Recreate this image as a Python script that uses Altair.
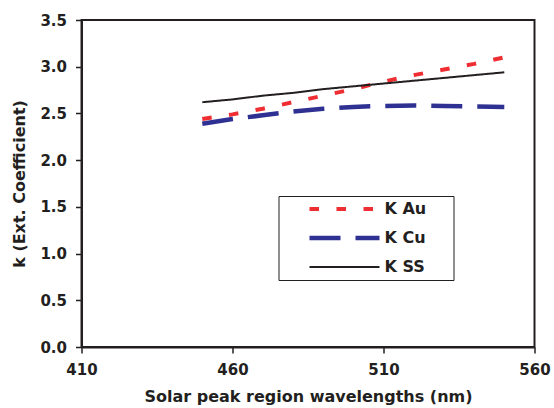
import altair as alt
import pandas as pd

wavelengths = [450, 460, 470, 480, 490, 500, 510, 520, 530, 540, 550]
k_au = [2.44, 2.49, 2.55, 2.62, 2.69, 2.76, 2.84, 2.91, 2.97, 3.03, 3.10]
k_cu = [2.39, 2.44, 2.48, 2.52, 2.55, 2.57, 2.58, 2.585, 2.58, 2.575, 2.57]
k_ss = [2.62, 2.65, 2.69, 2.72, 2.76, 2.79, 2.82, 2.85, 2.88, 2.91, 2.94]

series_names = ["K Au", "K Cu", "K SS"]
series_colors = ["#ee2e33", "#2e3192", "#231f20"]
series_dash = [[9.5, 17.5], [31, 15], [1, 0]]
series_width = [4, 4.5, 2]

rows = []
for name, vals in zip(series_names, [k_au, k_cu, k_ss]):
    for w, v in zip(wavelengths, vals):
        rows.append({"wl": w, "k": v, "series": name})
df = pd.DataFrame(rows)

FONT = "DejaVu Sans"
TXT = "#231f20"

chart = alt.Chart(df).mark_line(strokeCap="butt").encode(
    x=alt.X("wl:Q",
            scale=alt.Scale(domain=[410, 560], nice=False, zero=False),
            axis=alt.Axis(values=[410, 460, 510, 560], title="Solar peak region wavelengths (nm)",
                          grid=False, tickSize=6, labelPadding=9, titlePadding=11,
                          labelFlush=False)),
    y=alt.Y("k:Q",
            scale=alt.Scale(domain=[0, 3.5], nice=False),
            axis=alt.Axis(values=[0, 0.5, 1.0, 1.5, 2.0, 2.5, 3.0, 3.5], format=".1f",
                          title="k (Ext. Coefficient)", grid=False, tickSize=6,
                          labelPadding=9, titlePadding=12)),
    color=alt.Color("series:N", title=" ",
                    scale=alt.Scale(domain=series_names, range=series_colors)),
    strokeDash=alt.StrokeDash("series:N", title=" ",
                              scale=alt.Scale(domain=series_names, range=series_dash)),
    strokeWidth=alt.StrokeWidth("series:N", title=" ",
                                scale=alt.Scale(type="ordinal", domain=series_names, range=series_width)),
).properties(
    width=453, height=327,
    autosize=alt.AutoSizeParams(type="none"),
    padding={"left": 81.5, "top": 20, "right": 19.5, "bottom": 61},
).configure_view(
    stroke=TXT, strokeWidth=2
).configure_axis(
    labelFont=FONT, titleFont=FONT, labelFontSize=15, titleFontSize=16,
    labelFontWeight="bold", titleFontWeight="bold", labelColor=TXT, titleColor=TXT,
    domainColor=TXT, tickColor=TXT, domainWidth=2, tickWidth=1.5
).configure_legend(
    orient="none", legendX=197, legendY=176,
    symbolType="M 3.6 0 H 17.6", symbolSize=100,
    labelOffset=85, padding=5, rowPadding=12,
    fillColor="white", strokeColor=TXT,
    labelFont=FONT, labelFontSize=16, labelFontWeight="bold", labelColor=TXT,
    labelLimit=200, titleOrient="right", titlePadding=22, titleFontSize=16
)

chart.save("out.html", embed_options={"renderer": "svg", "actions": False})
